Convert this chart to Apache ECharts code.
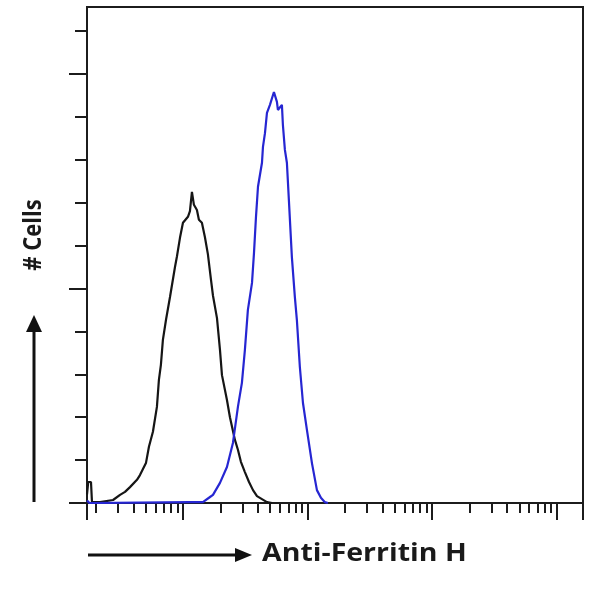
<!DOCTYPE html>
<html><head><meta charset="utf-8">
<script src="https://cdn.jsdelivr.net/npm/echarts@6/dist/echarts.min.js"></script>
<style>html,body{margin:0;padding:0;background:#fff;}#c{width:590px;height:596px;}</style>
</head><body><div id="c"></div>
<script>
const xLabel = 'Anti-Ferritin H';
const yLabel = '# Cells';
// x values are log10(fluorescence intensity); y values are cell counts (axis units)
const controlLog = [0.230,0.240,0.262,0.270,0.334,0.439,0.495,0.535,0.575,0.631,0.655,0.679,0.703,0.727,0.759,0.791,0.807,0.823,0.839,0.864,0.896,0.936,0.952,0.976,1.000,1.016,1.040,1.056,1.072,1.088,1.112,1.128,1.152,1.176,1.200,1.225,1.241,1.273,1.297,1.313,1.353,1.377,1.417,1.441,1.465,1.497,1.530,1.562,1.594,1.634,1.674,1.714];
const controlCount = [0.20,0.49,0.49,0.02,0.02,0.07,0.19,0.26,0.37,0.54,0.65,0.79,0.93,1.31,1.66,2.24,2.87,3.22,3.80,4.27,4.80,5.50,5.75,6.18,6.53,6.55,6.67,6.80,7.25,6.95,6.83,6.60,6.53,6.20,5.80,5.20,4.83,4.31,3.57,2.98,2.40,2.00,1.47,1.24,0.96,0.72,0.49,0.30,0.16,0.09,0.02,0];
const ferritinLog = [0.230,0.250,1.056,1.160,1.217,1.241,1.297,1.353,1.401,1.441,1.473,1.497,1.521,1.554,1.570,1.586,1.602,1.634,1.642,1.658,1.674,1.698,1.714,1.730,1.754,1.762,1.794,1.802,1.818,1.834,1.850,1.874,1.898,1.914,1.938,1.963,1.995,2.035,2.075,2.107,2.139,2.163];
const ferritinCount = [0.06,0,0.02,0.02,0.14,0.19,0.47,0.84,1.40,2.24,2.80,3.57,4.50,5.13,5.83,6.67,7.37,7.93,8.30,8.62,9.09,9.28,9.28,9.58,9.35,9.16,9.28,8.81,8.23,7.93,7.06,5.73,4.80,4.27,3.17,2.33,1.70,0.93,0.30,0.12,0.02,0];
const decadeValues = [1, 10, 100, 1000, 10000];
const minorMultipliers = [2, 3, 4, 5, 6, 7, 8, 9];
const yMinorTicks = [1, 2, 3, 4, 6, 7, 8, 9, 11];
const yMajorTicks = [0, 5, 10];
const xMinLog = 0.23, xMaxLog = 4.21;
const yMax = 11.56;

const minorX = [];
decadeValues.forEach(d => minorMultipliers.forEach(m => {
  const v = Math.log10(m * d);
  if (v > xMinLog && v < xMaxLog) minorX.push(v);
}));
const majorX = [xMinLog].concat(decadeValues.map(d => Math.log10(d)).filter(v => v > xMinLog && v < xMaxLog)).concat([xMaxLog]);

const AX = '#1c1c1c';
const chart = echarts.init(document.getElementById('c'), null, {renderer: 'canvas'});
const baseX = {
  type: 'value', min: xMinLog, max: xMaxLog, position: 'bottom',
  axisLine: {show: true, onZero: false, lineStyle: {color: AX, width: 2}},
  axisLabel: {show: false}, splitLine: {show: false}
};
const baseY = {
  type: 'value', min: 0, max: yMax, position: 'left',
  axisLine: {show: true, lineStyle: {color: AX, width: 2}},
  axisLabel: {show: false}, splitLine: {show: false}
};
chart.setOption({
  animation: false,
  backgroundColor: '#fff',
  grid: {left: 87, right: 7, top: 7, bottom: 93, show: true, borderColor: AX, borderWidth: 2},
  xAxis: [
    Object.assign({}, baseX, {axisTick: {show: true, length: 10, customValues: minorX, lineStyle: {color: AX, width: 2}}}),
    Object.assign({}, baseX, {axisTick: {show: true, length: 17, customValues: majorX, lineStyle: {color: AX, width: 2}}})
  ],
  yAxis: [
    Object.assign({}, baseY, {axisTick: {show: true, length: 12, customValues: yMinorTicks, lineStyle: {color: AX, width: 2}}}),
    Object.assign({}, baseY, {axisTick: {show: true, length: 18, customValues: yMajorTicks, lineStyle: {color: AX, width: 2}}})
  ],
  series: [
    {type: 'line', name: 'Control', data: controlLog.map((x, i) => [x, controlCount[i]]), showSymbol: false,
     lineStyle: {color: '#151515', width: 2.2}, xAxisIndex: 0, yAxisIndex: 0},
    {type: 'line', name: 'Anti-Ferritin H', data: ferritinLog.map((x, i) => [x, ferritinCount[i]]), showSymbol: false,
     lineStyle: {color: '#2626d2', width: 2.2}, xAxisIndex: 0, yAxisIndex: 0}
  ],
  graphic: [
    {type: 'line', shape: {x1: 34, y1: 502, x2: 34, y2: 328}, style: {stroke: '#111', lineWidth: 3}},
    {type: 'polygon', shape: {points: [[34, 315], [26, 332], [42, 332]]}, style: {fill: '#111'}},
    {type: 'text', x: 34, y: 235, rotation: Math.PI / 2, scaleX: 0.88,
     style: {text: yLabel, font: 'bold 25px "Open Sans"', fill: '#1a1a1a', align: 'center', verticalAlign: 'middle'}},
    {type: 'line', shape: {x1: 88, y1: 555, x2: 240, y2: 555}, style: {stroke: '#111', lineWidth: 3}},
    {type: 'polygon', shape: {points: [[252, 555], [235, 548], [235, 562]]}, style: {fill: '#111'}},
    {type: 'text', x: 262, y: 554, scaleX: 1.14,
     style: {text: xLabel, font: 'bold 25px "Open Sans"', fill: '#1a1a1a', align: 'left', verticalAlign: 'middle'}}
  ]
});
</script></body></html>
